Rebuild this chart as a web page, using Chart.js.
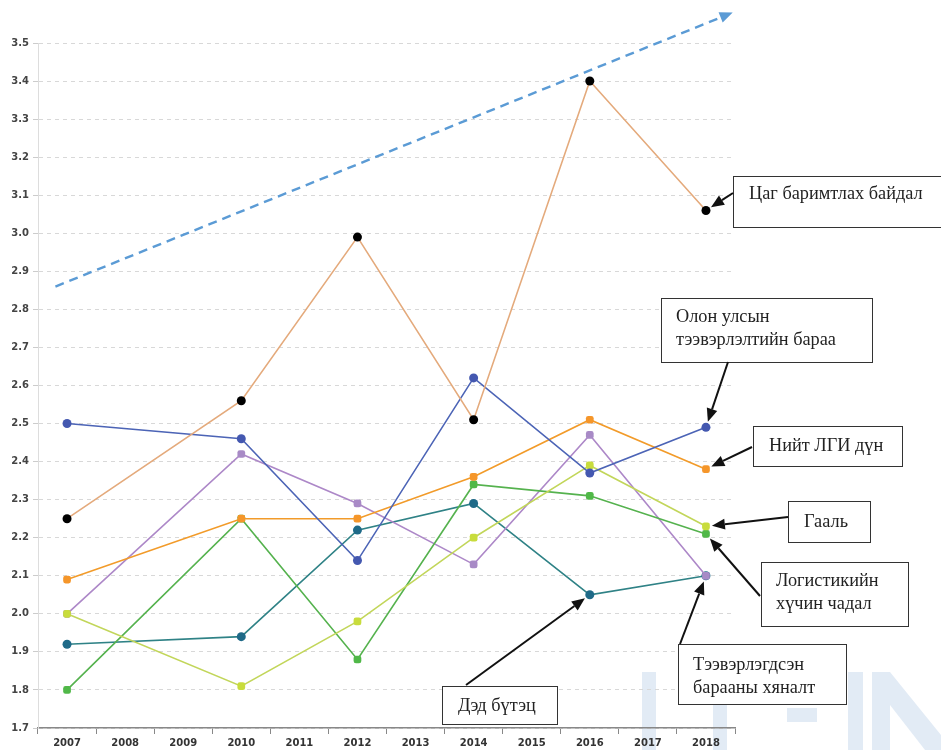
<!DOCTYPE html>
<html>
<head>
<meta charset="utf-8">
<script src="https://cdn.jsdelivr.net/npm/chart.js@4.4.0/dist/chart.umd.min.js"></script>
<style>
html, body { margin: 0; padding: 0; background: #fff; }
#wrap { width: 941px; height: 750px; position: relative; }
</style>
</head>
<body>
<div id="wrap"><canvas id="chart"></canvas></div>
<script>
// years on the x axis, only even-ish survey years have values
const years = ['2007', '2008', '2009', '2010', '2011', '2012', '2013', '2014', '2015', '2016', '2017', '2018']

const timeliness     = [2.25, null, null, 2.56, null, 2.99, null, 2.51, null, 3.40, null, 3.06]
const shipments      = [2.50, null, null, 2.46, null, 2.14, null, 2.62, null, 2.37, null, 2.49]
const lpiTotal       = [2.09, null, null, 2.25, null, 2.25, null, 2.36, null, 2.51, null, 2.38]
const customs        = [2.00, null, null, 1.81, null, 1.98, null, 2.20, null, 2.39, null, 2.23]
const competence     = [1.80, null, null, 2.25, null, 1.88, null, 2.34, null, 2.31, null, 2.21]
const tracking       = [2.00, null, null, 2.42, null, 2.29, null, 2.13, null, 2.47, null, 2.10]
const infrastructure = [1.92, null, null, 1.94, null, 2.22, null, 2.29, null, 2.05, null, 2.10]

// dashed trend arrow: [category index, value]
const trendFrom = [-0.2, 2.86]
const trendTo = [11.46, 3.58]

// callout texts, which series / point each one points to
const noteTexts = [
    ['Цаг баримтлах байдал'],
    ['Олон улсын', 'тээвэрлэлтийн бараа'],
    ['Нийт ЛГИ дүн'],
    ['Гааль'],
    ['Логистикийн', 'хүчин чадал'],
    ['Тээвэрлэгдсэн', 'барааны хяналт'],
    ['Дэд бүтэц']
]
const noteSeries = [0, 1, 2, 3, 4, 5, 6]
const notePoints = [11, 11, 11, 11, 11, 11, 9]

// box layout for the callouts (pixels)
const noteLayout = [
    { box: [733, 176, 215, 51], text: [749, 194], from: [733, 193] },
    { box: [661, 298, 211, 64], text: [676, 317], from: [728, 362] },
    { box: [753, 426, 149, 40], text: [769, 446], from: [752, 447] },
    { box: [788, 501, 82, 41], text: [804, 522], from: [788, 517] },
    { box: [761, 562, 147, 64], text: [776, 581], from: [760, 596] },
    { box: [678, 644, 168, 60], text: [693, 665], from: [680, 644] },
    { box: [442, 686, 115, 38], text: [458, 706], from: [466, 685] }
]

function arrow(c, x1, y1, x2, y2, color, width, head) {
    let ang = Math.atan2(y2 - y1, x2 - x1)
    let bx = x2 - Math.cos(ang) * head, by = y2 - Math.sin(ang) * head
    c.strokeStyle = color
    c.lineWidth = width
    c.beginPath()
    c.moveTo(x1, y1)
    c.lineTo(bx, by)
    c.stroke()
    c.setLineDash([])
    c.fillStyle = color
    c.beginPath()
    c.moveTo(x2, y2)
    c.lineTo(bx + Math.sin(ang) * head * 0.42, by - Math.cos(ang) * head * 0.42)
    c.lineTo(bx - Math.sin(ang) * head * 0.42, by + Math.cos(ang) * head * 0.42)
    c.closePath()
    c.fill()
}

// faint watermark blocks in the lower right corner of the scan
const watermarkPlugin = {
    id: 'watermark',
    beforeDraw(chart) {
        let c = chart.ctx
        c.save()
        c.fillStyle = 'rgba(190, 210, 232, 0.45)'
        c.fillRect(642, 672, 14, 78)
        c.fillRect(713, 700, 14, 50)
        c.fillRect(787, 708, 30, 14)
        c.fillRect(848, 672, 15, 78)
        c.beginPath()
        c.moveTo(872, 672)
        c.lineTo(890, 672)
        c.lineTo(941, 735)
        c.lineTo(941, 750)
        c.lineTo(925, 750)
        c.lineTo(890, 705)
        c.lineTo(890, 750)
        c.lineTo(872, 750)
        c.closePath()
        c.fill()
        c.restore()
    }
}

const calloutPlugin = {
    id: 'callouts',
    afterDatasetsDraw(chart) {
        let c = chart.ctx
        let xs = chart.scales.x, ys = chart.scales.y
        c.save()

        // trend arrow
        c.setLineDash([9, 6])
        arrow(c, xs.getPixelForValue(trendFrom[0]), ys.getPixelForValue(trendFrom[1]),
            xs.getPixelForValue(trendTo[0]), ys.getPixelForValue(trendTo[1]), '#5b9bd5', 2.4, 13)

        c.font = '18.3px "Liberation Serif", "DejaVu Serif", serif'
        c.textBaseline = 'middle'
        for (let i = 0; i < noteTexts.length; i++) {
            let lay = noteLayout[i]
            let [bx, by, bw, bh] = lay.box
            c.fillStyle = '#fff'
            c.fillRect(bx, by, bw, bh)
            c.strokeStyle = '#333'
            c.lineWidth = 1
            c.strokeRect(bx + 0.5, by + 0.5, bw, bh)
            c.fillStyle = '#222'
            noteTexts[i].forEach((t, k) => c.fillText(t, lay.text[0], lay.text[1] + k * 23))

            let pt = chart.getDatasetMeta(noteSeries[i]).data[notePoints[i]]
            let [fx, fy] = lay.from
            let d = Math.hypot(pt.x - fx, pt.y - fy)
            let tx = pt.x - (pt.x - fx) / d * 6, ty = pt.y - (pt.y - fy) / d * 6
            arrow(c, fx, fy, tx, ty, '#111', 2, 13)
        }
        c.restore()
    }
}

function series(label, data, line, point, style) {
    return {
        label: label,
        data: data,
        borderColor: line,
        backgroundColor: point,
        pointBackgroundColor: point,
        pointBorderColor: point,
        pointBorderWidth: 0,
        pointRadius: 4.5,
        pointStyle: style,
        borderWidth: 1.6,
        tension: 0,
        spanGaps: true
    }
}

const tickFont = { family: '"DejaVu Sans", Verdana, sans-serif', size: 10, weight: 'bold' }

new Chart(document.getElementById('chart'), {
    type: 'line',
    data: {
        labels: years,
        datasets: [
            series('Цаг баримтлах байдал', timeliness, '#e4aa7c', '#000', 'circle'),
            series('Олон улсын тээвэрлэлтийн бараа', shipments, '#4c64b6', '#4458b0', 'circle'),
            series('Нийт ЛГИ дүн', lpiTotal, '#f29b2a', '#f5962a', 'rectRounded'),
            series('Гааль', customs, '#c2d65a', '#c8dc3c', 'rectRounded'),
            series('Логистикийн хүчин чадал', competence, '#55b24e', '#50b848', 'rectRounded'),
            series('Тээвэрлэгдсэн барааны хяналт', tracking, '#ad88c8', '#a88ac6', 'rectRounded'),
            series('Дэд бүтэц', infrastructure, '#2f8286', '#1f6a88', 'circle')
        ]
    },
    options: {
        responsive: true,
        maintainAspectRatio: false,
        animation: false,
        layout: { padding: { top: 43, right: 206, left: 0, bottom: 0 } },
        plugins: {
            legend: { display: false },
            tooltip: { enabled: false }
        },
        scales: {
            x: {
                offset: true,
                grid: { offset: true, drawOnChartArea: false, drawTicks: true, tickLength: 6, color: '#888' },
                border: { color: '#888', width: 1.5 },
                ticks: { color: '#333', font: tickFont, padding: 3, maxRotation: 0, autoSkip: false },
                afterFit: s => { s.height = 22 }
            },
            y: {
                min: 1.7,
                max: 3.5,
                grid: { color: '#d8d8d8', tickLength: 5, tickColor: '#ccc', tickBorderDash: [] },
                border: { color: '#ddd', dash: [4, 4] },
                ticks: { stepSize: 0.1, color: '#444', font: tickFont, padding: 4, callback: v => v.toFixed(1) },
                afterFit: s => { s.width = 38 }
            }
        }
    },
    plugins: [watermarkPlugin, calloutPlugin]
})
</script>
</body>
</html>
